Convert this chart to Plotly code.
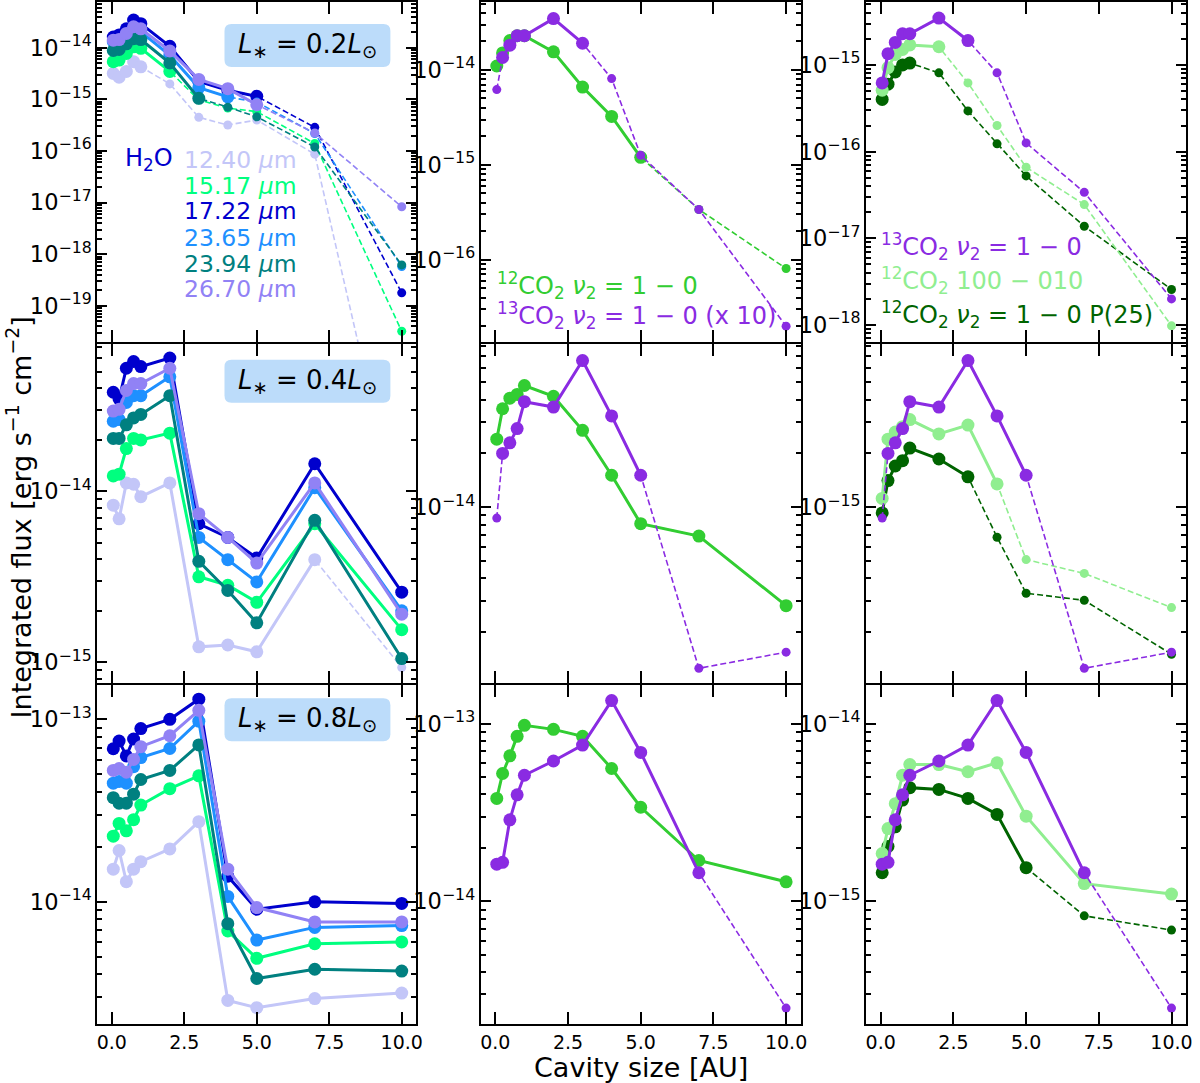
import plotly.graph_objects as go
from plotly.subplots import make_subplots

# cavity sizes [AU]
cavity = [0.05, 0.25, 0.5, 0.75, 1.0, 2.0, 3.0, 4.0, 5.0, 7.0, 10.0]
x_ticks = [0.0, 2.5, 5.0, 7.5, 10.0]
lum_labels = ["0.2", "0.4", "0.8"]
h2o_names = ["12.40", "15.17", "17.22", "23.65", "23.94", "26.70"]

# ---- H2O integrated fluxes, L* = 0.2 Lsun
h2o_1240_l02 = [3.2e-15, 2.7e-15, 3.5e-15, 5.4e-15, 4.3e-15, 2.0e-15, 4.5e-16, 3.2e-16, 4.0e-16, 8.7e-17, 4e-24]
h2o_1517_l02 = [5.4e-15, 5.8e-15, 7.8e-15, 1.05e-14, 9.8e-15, 3.5e-15, 9.8e-16, 6.8e-16, 5.8e-16, 1.4e-16, 3.2e-20]
h2o_1722_l02 = [1.62e-14, 1.78e-14, 2.34e-14, 3.47e-14, 2.95e-14, 1.07e-14, 2.24e-15, 1.51e-15, 1.15e-15, 2.88e-16, 1.78e-19]
h2o_2365_l02 = [1.32e-14, 1.41e-14, 1.78e-14, 2.19e-14, 2.04e-14, 7.2e-15, 1.7e-15, 1.12e-15, 8.9e-16, 2.19e-16, 5.75e-19]
h2o_2394_l02 = [8.9e-15, 9.3e-15, 1.2e-14, 1.51e-14, 1.45e-14, 5.1e-15, 1.05e-15, 7.1e-16, 4.6e-16, 1.2e-16, 6.2e-19]
h2o_2670_l02 = [1.41e-14, 1.45e-14, 1.91e-14, 2.57e-14, 2.34e-14, 8.7e-15, 2.45e-15, 1.62e-15, 7.9e-16, 2.24e-16, 8.3e-18]
# detection flags (1 = solid line / large marker)
h2o_1240_l02_det = [1, 1, 1, 1, 1, 0, 0, 0, 0, 0, 0]
h2o_1517_l02_det = [1, 1, 1, 1, 1, 1, 0, 0, 0, 0, 0]
h2o_1722_l02_det = [1, 1, 1, 1, 1, 1, 1, 1, 1, 0, 0]
h2o_2365_l02_det = [1, 1, 1, 1, 1, 1, 1, 1, 0, 0, 0]
h2o_2394_l02_det = [1, 1, 1, 1, 1, 1, 1, 0, 0, 0, 0]
h2o_2670_l02_det = [1, 1, 1, 1, 1, 1, 1, 1, 1, 0, 0]

# ---- H2O, L* = 0.4 Lsun
h2o_1240_l04 = [8.3e-15, 6.9e-15, 1.12e-14, 1.1e-14, 9.3e-15, 1.12e-14, 1.23e-15, 1.26e-15, 1.15e-15, 3.98e-15, 9.3e-16]
h2o_1517_l04 = [1.23e-14, 1.26e-14, 1.78e-14, 2.04e-14, 2.0e-14, 2.19e-14, 3.16e-15, 2.82e-15, 2.24e-15, 6.46e-15, 1.55e-15]
h2o_1722_l04 = [3.8e-14, 3.47e-14, 5.25e-14, 5.75e-14, 5.37e-14, 6.03e-14, 6.46e-15, 5.37e-15, 4.07e-15, 1.45e-14, 2.57e-15]
h2o_2365_l04 = [2.57e-14, 2.63e-14, 3.31e-14, 3.63e-14, 3.63e-14, 4.68e-14, 5.37e-15, 3.98e-15, 2.95e-15, 1.05e-14, 2.0e-15]
h2o_2394_l04 = [2.04e-14, 2.04e-14, 2.45e-14, 2.69e-14, 2.82e-14, 3.63e-14, 3.89e-15, 2.63e-15, 1.7e-15, 6.76e-15, 1.05e-15]
h2o_2670_l04 = [2.95e-14, 3.02e-14, 3.89e-14, 4.27e-14, 4.27e-14, 5.25e-14, 7.4e-15, 5.37e-15, 3.8e-15, 1.12e-14, 1.91e-15]
h2o_1240_l04_det = [1, 1, 1, 1, 1, 1, 1, 1, 1, 1, 0]
h2o_all_det = [1, 1, 1, 1, 1, 1, 1, 1, 1, 1, 1]

# ---- H2O, L* = 0.8 Lsun
h2o_1240_l08 = [1.51e-14, 1.91e-14, 1.29e-14, 1.51e-14, 1.66e-14, 1.95e-14, 2.75e-14, 2.88e-15, 2.63e-15, 2.95e-15, 3.16e-15]
h2o_1517_l08 = [2.29e-14, 2.69e-14, 2.45e-14, 2.82e-14, 3.39e-14, 4.17e-14, 4.9e-14, 6.92e-15, 4.9e-15, 5.89e-15, 6.03e-15]
h2o_1722_l08 = [6.9e-14, 7.6e-14, 6.3e-14, 7.8e-14, 8.9e-14, 1.0e-13, 1.29e-13, 1.38e-14, 9.1e-15, 1.0e-14, 9.8e-15]
h2o_2365_l08 = [4.47e-14, 4.57e-14, 4.47e-14, 5.5e-14, 6.17e-14, 6.92e-14, 9.77e-14, 1.07e-14, 6.17e-15, 7.24e-15, 7.41e-15]
h2o_2394_l08 = [3.72e-14, 3.47e-14, 3.47e-14, 3.89e-14, 4.68e-14, 5.25e-14, 7.24e-14, 7.59e-15, 3.8e-15, 4.27e-15, 4.17e-15]
h2o_2670_l08 = [5.25e-14, 5.37e-14, 5.13e-14, 6.03e-14, 7.08e-14, 8.13e-14, 1.12e-13, 1.51e-14, 9.3e-15, 7.76e-15, 7.76e-15]

# ---- 12CO2 nu2 = 1-0
co2_12_l02 = [1.1e-14, 1.51e-14, 2.04e-14, 2.29e-14, 2.29e-14, 1.55e-14, 6.6e-15, 3.24e-15, 1.2e-15, 3.39e-16, 8.1e-17]
co2_12_l04 = [2.4e-14, 3.55e-14, 4.07e-14, 4.27e-14, 4.79e-14, 4.17e-14, 2.69e-14, 1.51e-14, 8.1e-15, 6.9e-15, 2.82e-15]
co2_12_l08 = [3.8e-14, 5.25e-14, 6.6e-14, 8.5e-14, 9.8e-14, 9.3e-14, 8.5e-14, 5.6e-14, 3.39e-14, 1.7e-14, 1.29e-14]
co2_12_l02_det = [1, 1, 1, 1, 1, 1, 1, 1, 1, 0, 0]

# ---- 13CO2 nu2 = 1-0
co2_13_l02 = [6.2e-16, 1.35e-15, 1.82e-15, 2.29e-15, 2.29e-15, 3.47e-15, 1.91e-15, 8.1e-16, 1.26e-16, 3.39e-17, 2.0e-18]
co2_13_l04 = [8.7e-16, 2.0e-15, 2.29e-15, 2.75e-15, 3.89e-15, 3.63e-15, 6.6e-15, 3.24e-15, 1.51e-15, 1.26e-16, 1.55e-16]
co2_13_l08 = [1.62e-15, 1.66e-15, 2.88e-15, 3.98e-15, 5.13e-15, 6.17e-15, 7.59e-15, 1.35e-14, 6.9e-15, 1.45e-15, 2.51e-16]
co2_13_l02_det_mid = [0, 1, 1, 1, 1, 1, 1, 0, 0, 0, 0]
co2_13_l02_det = [1, 1, 1, 1, 1, 1, 1, 0, 0, 0, 0]
co2_13_l04_det = [0, 1, 1, 1, 1, 1, 1, 1, 1, 0, 0]
co2_13_l08_det = [1, 1, 1, 1, 1, 1, 1, 1, 1, 1, 0]

# ---- 12CO2 100-010
co2_q_l02 = [5.1e-16, 9.3e-16, 1.32e-15, 1.51e-15, 1.7e-15, 1.62e-15, 6.2e-16, 2.0e-16, 6.6e-17, 2.45e-17, 9.8e-19]
co2_q_l04 = [1.12e-15, 2.4e-15, 2.63e-15, 2.82e-15, 3.09e-15, 2.57e-15, 2.88e-15, 1.35e-15, 5.1e-16, 4.27e-16, 2.75e-16]
co2_q_l08 = [1.86e-15, 2.57e-15, 3.55e-15, 5.13e-15, 5.89e-15, 5.89e-15, 5.37e-15, 6.03e-15, 3.02e-15, 1.26e-15, 1.1e-15]
co2_q_l02_det = [1, 1, 1, 1, 1, 1, 0, 0, 0, 0, 0]
co2_q_l04_det = [1, 1, 1, 1, 1, 1, 1, 1, 0, 0, 0]

# ---- 12CO2 nu2 = 1-0 P(25)
co2_p25_l02 = [4.0e-16, 6.0e-16, 8.3e-16, 1.0e-15, 1.05e-15, 8.1e-16, 2.95e-16, 1.23e-16, 5.25e-17, 1.38e-17, 2.57e-18]
co2_p25_l04 = [9.3e-16, 1.41e-15, 1.7e-15, 1.82e-15, 2.14e-15, 1.86e-15, 1.48e-15, 6.8e-16, 3.31e-16, 3.02e-16, 1.51e-16]
co2_p25_l08 = [1.45e-15, 2.04e-15, 2.63e-15, 3.72e-15, 4.37e-15, 4.27e-15, 3.8e-15, 3.09e-15, 1.55e-15, 8.3e-16, 6.9e-16]
co2_p25_l02_det = [1, 1, 1, 1, 1, 0, 0, 0, 0, 0, 0]
co2_p25_l04_det = [1, 1, 1, 1, 1, 1, 1, 0, 0, 0, 0]
co2_p25_l08_det = [1, 1, 1, 1, 1, 1, 1, 1, 1, 0, 0]

# shaded bands (AU)
band_h2o = [(0.0, 0.4), (0.0, 0.4), (0.1, 0.6)]
band_co2 = [(0.7, 1.3), (0.7, 1.3), (0.9, 1.5)]

h2o_colors = ["#c3c6f8", "#00ff7f", "#0000cd", "#1e90ff", "#008080", "#9182f5"]
c_12 = "#32cd32"
c_13 = "#8a2be2"
c_q = "#90ee90"
c_p25 = "#006400"

h2o_rows = [
    ([h2o_1240_l02, h2o_1517_l02, h2o_1722_l02, h2o_2365_l02, h2o_2394_l02, h2o_2670_l02],
     [h2o_1240_l02_det, h2o_1517_l02_det, h2o_1722_l02_det, h2o_2365_l02_det, h2o_2394_l02_det, h2o_2670_l02_det]),
    ([h2o_1240_l04, h2o_1517_l04, h2o_1722_l04, h2o_2365_l04, h2o_2394_l04, h2o_2670_l04],
     [h2o_1240_l04_det] + [h2o_all_det] * 5),
    ([h2o_1240_l08, h2o_1517_l08, h2o_1722_l08, h2o_2365_l08, h2o_2394_l08, h2o_2670_l08],
     [h2o_all_det] * 6),
]

mid_rows = [
    [(co2_12_l02, co2_12_l02_det, c_12), ([10 * v for v in co2_13_l02], co2_13_l02_det_mid, c_13)],
    [(co2_12_l04, h2o_all_det, c_12), ([10 * v for v in co2_13_l04], co2_13_l04_det, c_13)],
    [(co2_12_l08, h2o_all_det, c_12), ([10 * v for v in co2_13_l08], co2_13_l08_det, c_13)],
]

right_rows = [
    [(co2_p25_l02, co2_p25_l02_det, c_p25), (co2_q_l02, co2_q_l02_det, c_q), (co2_13_l02, co2_13_l02_det, c_13)],
    [(co2_p25_l04, co2_p25_l04_det, c_p25), (co2_q_l04, co2_q_l04_det, c_q), (co2_13_l04, co2_13_l04_det, c_13)],
    [(co2_p25_l08, co2_p25_l08_det, c_p25), (co2_q_l08, h2o_all_det, c_q), (co2_13_l08, co2_13_l08_det, c_13)],
]

# log10 y ranges per panel [row][col]
y_ranges = [
    [[-19.71, -13.12], [-16.87, -13.29], [-18.20, -14.28]],
    [[-15.12, -13.14], [-14.98, -13.09], [-15.98, -14.09]],
    [[-14.67, -12.81], [-14.69, -12.78], [-15.69, -13.78]],
]

W, H = 1200, 1083
x_domains = [[97 / W, 418 / W], [483 / W, 805 / W], [871 / W, 1193 / W]]
# axis lines are drawn just outside the plot area, so leave a 2px seam between rows
row_px = [(1.5, 341.7), (343.7, 682.3), (684.3, 1024)]
y_domains = [[1 - b / H, 1 - t / H] for t, b in row_px]

fig = make_subplots(rows=3, cols=3)


def add_series(row, col, y, det, color):
    fig.add_trace(go.Scatter(
        x=cavity, y=y, mode="lines+markers",
        line=dict(color=color, width=1.6, dash="6px,3px"),
        marker=dict(size=9, color=color),
        showlegend=False, hoverinfo="skip"
    ), row=row, col=col)
    y_det = [v if d else None for v, d in zip(y, det)]
    fig.add_trace(go.Scatter(
        x=cavity, y=y_det, mode="lines+markers",
        line=dict(color=color, width=3),
        marker=dict(size=13, color=color),
        connectgaps=False, showlegend=False
    ), row=row, col=col)


for r in range(3):
    # shaded bands
    fig.add_vrect(x0=band_h2o[r][0], x1=band_h2o[r][1], fillcolor="rgba(100,149,237,0.3)",
                  line_width=0, layer="below", row=r + 1, col=1)
    for c in (2, 3):
        fig.add_vrect(x0=band_co2[r][0], x1=band_co2[r][1], fillcolor="rgba(50,205,50,0.2)",
                      line_width=0, layer="below", row=r + 1, col=c)

    series, dets = h2o_rows[r]
    for y, det, color in zip(series, dets, h2o_colors):
        add_series(r + 1, 1, y, det, color)
    for y, det, color in mid_rows[r]:
        add_series(r + 1, 2, y, det, color)
    for y, det, color in right_rows[r]:
        add_series(r + 1, 3, y, det, color)

for r in range(3):
    for c in range(3):
        fig.update_xaxes(
            domain=x_domains[c], range=[-0.5, 10.5],
            tickvals=x_ticks, tickformat=".1f", showticklabels=(r == 2),
            ticks="inside", ticklen=12, tickwidth=2, tickcolor="black",
            showline=True, linewidth=2, linecolor="black", mirror="ticks",
            showgrid=False, zeroline=False,
            tickfont=dict(size=19, color="black"),
            row=r + 1, col=c + 1)
        fig.update_yaxes(
            domain=y_domains[r], type="log", range=y_ranges[r][c], dtick=1,
            exponentformat="power", showexponent="all",
            ticks="inside", ticklen=10, tickwidth=2, tickcolor="black",
            minor=dict(ticks="inside", ticklen=5, tickwidth=1.5, tickcolor="black",
                       dtick="D1", showgrid=False),
            showline=True, linewidth=2, linecolor="black", mirror="allticks",
            showgrid=False, zeroline=False,
            tickfont=dict(size=18, color="black"),
            row=r + 1, col=c + 1)

# luminosity boxes
box_y = [(23, 66), (359, 402), (698, 741)]
shapes = []
annotations = []
rad = 7
for (top, bot), lab in zip(box_y, lum_labels):
    x0, x1 = 225 / W, 392 / W
    y1, y0 = 1 - top / H, 1 - bot / H
    rx, ry = rad / W, rad / H
    path = (f"M {x0 + rx},{y1} L {x1 - rx},{y1} Q {x1},{y1} {x1},{y1 - ry} "
            f"L {x1},{y0 + ry} Q {x1},{y0} {x1 - rx},{y0} L {x0 + rx},{y0} "
            f"Q {x0},{y0} {x0},{y0 + ry} L {x0},{y1 - ry} Q {x0},{y1} {x0 + rx},{y1} Z")
    shapes.append(dict(type="path", path=path, xref="paper", yref="paper",
                       fillcolor="#bcdcfa", line=dict(width=0), layer="above"))
    annotations.append(dict(
        text=f"<i>L</i><sub>∗</sub> = {lab}<i>L</i><sub>⊙</sub>",
        x=(x0 + x1) / 2, y=(y0 + y1) / 2, xref="paper", yref="paper",
        xanchor="center", yanchor="middle", showarrow=False,
        font=dict(size=26, color="black")))

# H2O labels
annotations.append(dict(text="H<sub>2</sub>O", x=123 / W, y=1 - 159 / H, xref="paper", yref="paper",
                        xanchor="left", yanchor="middle", showarrow=False,
                        font=dict(size=24, color="#0000cd")))
h2o_y = [159, 185, 210, 237, 263, 288]
for name, color, yy in zip(h2o_names, h2o_colors, h2o_y):
    annotations.append(dict(text=f"{name} <i>µ</i>m", x=182 / W, y=1 - yy / H,
                            xref="paper", yref="paper", xanchor="left", yanchor="middle",
                            showarrow=False, font=dict(size=23.5, color=color)))

# CO2 labels
mid_text = [("<sup>12</sup>CO<sub>2</sub> <i>ν</i><sub>2</sub> = 1 − 0", c_12, 285),
            ("<sup>13</sup>CO<sub>2</sub> <i>ν</i><sub>2</sub> = 1 − 0 (x 10)", c_13, 315)]
for txt, color, yy in mid_text:
    annotations.append(dict(text=txt, x=497 / W, y=1 - yy / H, xref="paper", yref="paper",
                            xanchor="left", yanchor="middle", showarrow=False,
                            font=dict(size=24, color=color)))
right_text = [("<sup>13</sup>CO<sub>2</sub> <i>ν</i><sub>2</sub> = 1 − 0", c_13, 246),
              ("<sup>12</sup>CO<sub>2</sub> 100 − 010", c_q, 280),
              ("<sup>12</sup>CO<sub>2</sub> <i>ν</i><sub>2</sub> = 1 − 0 P(25)", c_p25, 314)]
for txt, color, yy in right_text:
    annotations.append(dict(text=txt, x=884 / W, y=1 - yy / H, xref="paper", yref="paper",
                            xanchor="left", yanchor="middle", showarrow=False,
                            font=dict(size=24, color=color)))

# axis titles
annotations.append(dict(text="Cavity size [AU]", x=644 / W, y=1 - 1067 / H, xref="paper", yref="paper",
                        xanchor="center", yanchor="middle", showarrow=False,
                        font=dict(size=27, color="black")))
annotations.append(dict(text="Integrated flux [erg s<sup>−1</sup> cm<sup>−2</sup>]", x=18 / W, y=1 - 517 / H,
                        xref="paper", yref="paper", xanchor="center", yanchor="middle",
                        textangle=-90, showarrow=False, font=dict(size=27, color="black")))

fig.update_layout(
    width=W, height=H,
    margin=dict(l=0, r=0, t=0, b=0),
    plot_bgcolor="white", paper_bgcolor="white",
    font=dict(family="DejaVu Sans", color="black"),
    shapes=list(fig.layout.shapes) + shapes,
    annotations=annotations,
    showlegend=False,
)

# the page's default body margin would shift the figure by 8px
fig.write_html("out.html", config={"displayModeBar": False},
               post_script="document.body.style.margin='0px';")
